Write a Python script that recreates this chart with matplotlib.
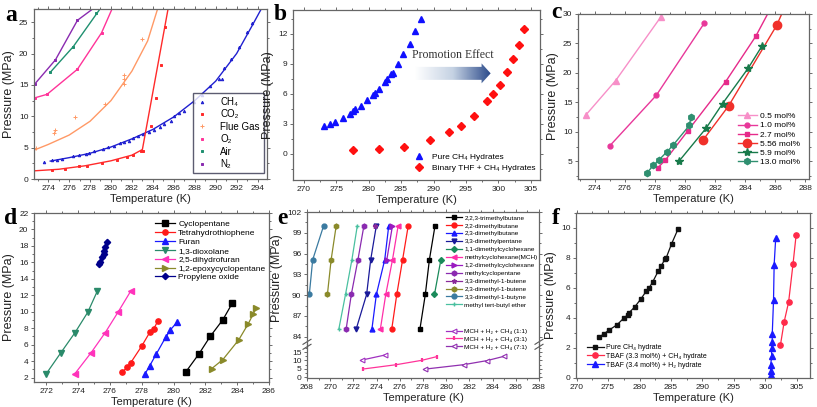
import numpy as np
import matplotlib
matplotlib.use('Agg')
import matplotlib.pyplot as plt
from matplotlib.ticker import MultipleLocator
from matplotlib.colors import LinearSegmentedColormap
from matplotlib.patches import Polygon
from matplotlib.lines import Line2D

plt.rcParams['font.family'] = ['Liberation Sans', 'DejaVu Sans']

# ---------------- panel a : gas hydrate equilibrium data ----------------
a_ch4_T = [273.6, 274.4, 274.8, 275.3, 276.4, 276.9, 277.6, 277.9, 278.4, 279.2, 279.7, 280.3,
           280.9, 281.2, 281.7, 282.1, 282.6, 283.1, 283.6, 284.1, 284.7, 285.1, 285.7, 286.0,
           286.5, 287.0, 287.9, 288.7, 289.5, 290.3, 290.6, 290.8, 291.5, 292.25, 293.0, 293.5]
a_ch4_P = [2.77, 3.0, 3.1, 3.25, 3.6, 3.8, 4.0, 4.2, 4.4, 4.8, 5.1, 5.3,
           5.7, 5.9, 6.1, 6.5, 6.8, 7.1, 7.5, 7.8, 8.3, 8.7, 9.2, 10.0,
           10.5, 10.9, 12.3, 13.4, 14.9, 15.9, 15.9, 17.7, 19.2, 21.1, 23.4, 24.9]
a_ch4_fit_T = [274.2, 276, 278, 280, 282, 284, 286, 288, 290, 292, 293.5, 294.35]
a_ch4_fit_P = [2.85, 3.4, 4.1, 5.1, 6.4, 7.9, 9.9, 12.5, 15.6, 20.0, 24.5, 27.1]
a_co2_T = [274.4, 275.6, 276.9, 277.7, 279.1, 280.6, 281.5, 282.1, 282.9, 283.1, 283.8, 284.3, 284.8, 285.2]
a_co2_P = [1.45, 1.65, 2.0, 2.1, 2.6, 3.1, 3.5, 3.8, 4.4, 4.45, 8.5, 12.9, 18.1, 24.3]
a_co2_fit_T = [272.65, 275, 277.5, 280, 282, 283.0, 285.45]
a_co2_fit_P = [1.3, 1.55, 2.1, 2.9, 3.8, 4.7, 27.1]
a_flue_T = [272.8, 274.6, 274.7, 276.6, 279.4, 281.2, 281.2, 281.25, 283.0]
a_flue_P = [4.9, 7.4, 7.8, 9.9, 12.0, 15.1, 16.0, 16.6, 22.3]
a_flue_fit_T = [272.65, 274, 276, 278, 280, 282, 283.5, 284.45]
a_flue_fit_P = [4.6, 5.5, 7.0, 9.2, 12.5, 17.2, 22.0, 27.1]
a_o2_T = [272.75, 273.9, 276.8, 279.1]
a_o2_P = [12.9, 13.5, 17.5, 23.3]
a_o2_fit_T = [272.65, 273.9, 276.8, 279.1, 280.1]
a_o2_fit_P = [12.9, 13.5, 17.5, 23.3, 27.1]
a_air_T = [274.2, 276.4, 278.6]
a_air_P = [17.0, 21.1, 26.5]
a_air_fit_T = [274.2, 276.4, 278.95]
a_air_fit_P = [17.0, 21.1, 27.1]
a_n2_T = [272.7, 274.7, 276.8]
a_n2_P = [15.1, 19.0, 25.3]
a_n2_fit_T = [272.65, 274.7, 276.8, 278.25]
a_n2_fit_P = [15.0, 19.0, 25.3, 27.1]

# ---------------- panel b ----------------
b_ch4_T = [273.2, 274.0, 274.8, 276.0, 277.1, 277.6, 277.9, 278.8, 279.8, 280.7, 281.0,
           281.6, 282.5, 282.9, 283.5, 283.7, 284.6, 285.3, 286.4, 287.2, 288.0]
b_ch4_P = [2.77, 3.0, 3.2, 3.6, 4.0, 4.3, 4.45, 4.8, 5.4, 5.85, 6.05,
           6.45, 7.2, 7.5, 8.0, 8.1, 8.96, 9.96, 11.0, 12.3, 13.5]
b_thf_T = [277.6, 281.6, 285.4, 289.5, 292.4, 294.3, 296.2, 298.3, 299.1, 300.2, 301.3, 302.2, 303.1, 304.0]
b_thf_P = [0.33, 0.47, 0.7, 1.37, 2.14, 2.8, 3.74, 5.3, 6.0, 6.9, 8.15, 9.46, 10.9, 12.5]

# ---------------- panel c ----------------
c_labels = ['0.5 mol%', '1.0 mol%', '2.7 mol%', '5.56 mol%', '5.9 mol%', '13.0 mol%']
c_T = [[273.4, 275.4, 278.4],
       [275.0, 278.1, 281.3],
       [278.2, 278.7, 280.2, 282.7, 284.7, 285.7],
       [281.2, 282.9, 286.1, 286.6],
       [279.6, 281.4, 282.5, 284.2, 285.1],
       [277.5, 277.9, 278.3, 278.8, 279.2, 280.3, 280.4]]
c_P = [[12.8, 18.7, 29.5],
       [7.6, 16.2, 28.5],
       [3.9, 5.2, 10.2, 18.5, 26.2, 31.0],
       [8.6, 14.4, 28.1, 31.0],
       [5.0, 10.6, 14.8, 20.8, 24.5],
       [3.1, 4.3, 5.3, 6.6, 7.7, 11.1, 12.5]]

# ---------------- panel d ----------------
d_labels = ['Cyclopentane', 'Tetrahydrothiophene', 'Furan', '1,3-dioxolane',
            '2,5-dihydrofuran', '1,2-epoxycyclopentane', 'Propylene oxide']
d_T = [[280.75, 281.6, 282.3, 283.1, 283.7],
       [276.76, 277.1, 277.3, 278.0, 278.5, 278.76, 279.0],
       [278.2, 278.5, 278.9, 279.5, 279.8, 280.2],
       [272.0, 272.9, 273.8, 274.6, 275.2],
       [273.8, 274.8, 275.7, 276.5, 277.3],
       [282.4, 283.1, 284.1, 284.7, 285.0, 285.2],
       [275.3, 275.4, 275.5, 275.6, 275.65, 275.7, 275.8]]
d_P = [[2.65, 4.9, 7.0, 9.04, 11.07],
       [2.65, 3.3, 3.8, 5.85, 7.5, 7.95, 8.85],
       [2.45, 3.45, 4.83, 6.9, 7.8, 8.7],
       [2.5, 5.0, 7.47, 9.94, 12.5],
       [2.5, 5.0, 7.47, 9.94, 12.5],
       [3.1, 4.2, 6.6, 8.56, 9.7, 10.45],
       [15.8, 16.1, 16.6, 17.0, 17.4, 17.9, 18.5]]

# ---------------- panel e ----------------
e_labels = ['2,2,3-trimethylbutane', '2,2-dimethylbutane', '2,3-dimethylbutane', '3,3-dimethylpentane',
            '1,1-dimethylcyclohexane', 'methylcyclohexane(MCH)', '1,2-dimethylcyclohexane',
            'methylcyclopentane', '3,3-dimethyl-1-butene', '2,3-dimethyl-1-butene',
            '3,3-dimethyl-1-butyne', 'methyl tert-butyl ether']
e_T = [[277.74, 278.2, 278.55, 279.04],
       [275.31, 275.74, 276.24, 276.73],
       [273.6, 273.98, 274.7, 275.05],
       [272.25, 273.14, 273.49, 273.98],
       [278.99, 279.54],
       [274.33, 274.79, 275.37, 275.86],
       [274.88, 275.37],
       [271.38, 271.82, 272.39, 272.91],
       [273.84],
       [269.76, 270.08, 270.52],
       [268.2, 268.49, 269.44],
       [270.75, 271.32, 271.87, 272.34]]
e_P = [[85.15, 90.1, 95.1, 100.05],
       [85.15, 90.1, 95.1, 100.05],
       [85.15, 90.1, 95.1, 100.05],
       [85.15, 90.1, 95.1, 100.05],
       [90.1, 95.1],
       [85.15, 90.1, 95.1, 100.05],
       [95.1, 100.05],
       [85.15, 90.1, 95.1, 100.05],
       [100.05],
       [90.1, 95.1, 100.05],
       [90.1, 95.1, 100.05],
       [85.15, 90.1, 95.1, 100.05]]
e_mix_labels = ['MCH + H₂ + CH₄ (1:1)', 'MCH + H₂ + CH₄ (3:1)', 'MCH + H₂ + CH₄ (7:1)']
e_mix_T = [[272.7, 274.7],
           [272.8, 275.7, 277.9, 279.2],
           [278.2, 281.5, 283.5, 285.0]]
e_mix_P = [[10.2, 13.2],
           [4.9, 7.5, 10.1, 12.3],
           [4.9, 7.5, 9.9, 12.5]]

# ---------------- panel f ----------------
f_ch4_T = [273.55, 274.4, 275.1, 276.4, 277.5, 278.1, 278.3, 279.2, 280.2, 281.1, 281.5,
           282.1, 283.0, 283.4, 284.05, 284.2, 285.1, 286.1]
f_ch4_P = [2.72, 2.96, 3.18, 3.54, 3.99, 4.2, 4.34, 4.72, 5.26, 5.81, 5.99,
           6.41, 7.15, 7.44, 7.93, 7.97, 8.95, 9.91]
f_tbaf_ch4_T = [302.4, 303.0, 303.7, 304.4, 304.9]
f_tbaf_ch4_P = [2.2, 3.76, 5.06, 7.6, 9.55]
f_tbaf_h2_T = [300.86, 300.86, 300.86, 301.0, 301.0, 301.1, 301.1, 301.3, 301.4, 301.65]
f_tbaf_h2_P = [0.2, 0.49, 0.89, 1.45, 2.0, 2.38, 2.94, 5.17, 7.55, 9.33]

W, H = 817, 407
fig = plt.figure(figsize=(W / 100, H / 100), dpi=100)


def make_ax(l, t, r, b):
    return fig.add_axes([l / W, 1 - b / H, (r - l) / W, (b - t) / H])


def style(ax, xstep, ystep, xlab=True):
    ax.xaxis.set_major_locator(MultipleLocator(xstep))
    ax.xaxis.set_minor_locator(MultipleLocator(xstep / 2))
    ax.yaxis.set_major_locator(MultipleLocator(ystep))
    ax.yaxis.set_minor_locator(MultipleLocator(ystep / 2))
    ax.tick_params(which='both', direction='out', top=True, right=True, labelsize=6,
                   width=0.6, color='#555555', labelcolor='#222222', pad=1.5)
    ax.tick_params(which='major', length=2.5)
    ax.tick_params(which='minor', length=1.5)
    for s in ax.spines.values():
        s.set_color('#666666')
        s.set_linewidth(0.9)
    if xlab:
        ax.set_xlabel('Temperature (K)', fontsize=8, labelpad=2, color='#222222')


def panel_letter(x, y, s):
    fig.text(x / W, 1 - y / H, s, fontsize=17, fontweight='bold',
             family=['Liberation Serif', 'DejaVu Serif'], va='baseline')


# ---------------- a ----------------
ax = make_ax(34, 9, 267, 179)
for T, P, fT, fP, c, m, lab in [
        (a_ch4_T, a_ch4_P, a_ch4_fit_T, a_ch4_fit_P, '#2020d0', '^', 'CH₄'),
        (a_co2_T, a_co2_P, a_co2_fit_T, a_co2_fit_P, '#ff2a2a', 's', 'CO₂'),
        (a_flue_T, a_flue_P, a_flue_fit_T, a_flue_fit_P, '#ff9966', '+', 'Flue Gas'),
        (a_o2_T, a_o2_P, a_o2_fit_T, a_o2_fit_P, '#ff3399', 's', 'O₂'),
        (a_air_T, a_air_P, a_air_fit_T, a_air_fit_P, '#1f9070', 's', 'Air'),
        (a_n2_T, a_n2_P, a_n2_fit_T, a_n2_fit_P, '#8a2bb0', 's', 'N₂')]:
    ax.plot(fT, fP, color=c, lw=1.0)
    ax.plot(T, P, ls='none', marker=m, ms=1.8 if m != '+' else 2.5, color=c, mew=0.7, label=lab)
ax.set_xlim(272.65, 294.9)
ax.set_ylim(0, 27.1)
style(ax, 2, 5)
ax.set_ylabel('Pressure (MPa)', fontsize=9, labelpad=3, color='#222222')
leg = ax.legend(loc='lower right', bbox_to_anchor=(0.985, 0.035), fontsize=7, handlelength=1,
                handletextpad=1.4, labelspacing=0.25, fancybox=False, borderpad=0.4,
                borderaxespad=0, markerscale=1.0)
leg.get_frame().set_edgecolor('#33334d')
leg.get_frame().set_linewidth(1.0)
panel_letter(5, 21, 'a')

# ---------------- b ----------------
ax = make_ax(293, 10, 540, 180)
ax.plot(b_ch4_T, b_ch4_P, ls='none', marker='^', ms=5, color='#1010ff', label='Pure CH₄ Hydrates')
ax.plot(b_thf_T, b_thf_P, ls='none', marker='D', ms=4, color='#ff1010', label='Binary THF + CH₄ Hydrates')
cmap = LinearSegmentedColormap.from_list('arr', ['#ffffff', '#c5d2e3', '#2b4a8a'])
im = ax.imshow(np.linspace(0, 1, 256)[None, :], extent=(287.1, 298.8, 7.0, 9.1),
               aspect='auto', cmap=cmap, zorder=1)
arrow = Polygon([(287.1, 7.4), (297.4, 7.4), (297.4, 7.05), (298.8, 8.05), (297.4, 9.05),
                 (297.4, 8.7), (287.1, 8.7)], closed=True, transform=ax.transData,
                facecolor='none', edgecolor='none')
ax.add_patch(arrow)
im.set_clip_path(arrow)
ax.text(293.0, 9.9, 'Promotion Effect', fontsize=8.5, ha='center', va='center', color='#333333',
        family=['Liberation Serif', 'DejaVu Serif'])
ax.set_xlim(268.35, 306.4)
ax.set_ylim(-2.64, 14.4)
style(ax, 5, 3)
ax.yaxis.set_minor_locator(MultipleLocator(1.5))
ax.set_ylabel('Pressure (MPa)', fontsize=9, labelpad=3, color='#222222')
ax.legend(loc='lower right', bbox_to_anchor=(0.995, 0.03), fontsize=6, frameon=False,
          handletextpad=0.6, labelspacing=0.35, borderaxespad=0)
panel_letter(274, 20, 'b')

# ---------------- c ----------------
ax = make_ax(578, 14, 809, 179)
c_colors = ['#f78fc8', '#e8389a', '#e62a8a', '#f0302a', '#187a4a', '#2f8f70']
c_markers = ['^', 'o', 's', 'o', '*', 'h']
c_sizes = [4, 3.5, 3.5, 6, 6, 4.5]
for T, P, lab, col, m, s in zip(c_T, c_P, c_labels, c_colors, c_markers, c_sizes):
    ax.plot(T, P, color=col, marker=m, ms=s, lw=1.0, label=lab)
ax.set_xlim(272.9, 288.24)
ax.set_ylim(2.0, 30)
style(ax, 2, 5)
ax.set_ylabel('Pressure (MPa)', fontsize=9, labelpad=3, color='#222222')
ax.legend(loc='lower right', bbox_to_anchor=(0.975, 0.06), fontsize=6, frameon=False,
          handlelength=2.2, handletextpad=0.4, labelspacing=0.15, borderaxespad=0)
panel_letter(551, 18, 'c')

# ---------------- d ----------------
ax = make_ax(34, 213, 269, 382)
d_colors = ['#000000', '#ff1a1a', '#1a1aff', '#2a8a6a', '#ff33bb', '#8a8a2a', '#00008b']
d_markers = ['s', 'o', '^', 'v', '<', '>', 'D']
for T, P, lab, col, m in zip(d_T, d_P, d_labels, d_colors, d_markers):
    ax.plot(T, P, color=col, marker=m, ms=3.8 if m != 'D' else 3.2, lw=0.9, label=lab)
ax.set_xlim(271.22, 286.0)
ax.set_ylim(1.47, 22)
style(ax, 2, 2)
ax.yaxis.set_minor_locator(MultipleLocator(1))
ax.set_ylabel('Pressure (MPa)', fontsize=9, labelpad=3, color='#222222')
ax.legend(loc='upper left', bbox_to_anchor=(0.50, 0.975), fontsize=6, frameon=False,
          handlelength=2.4, handletextpad=0.4, labelspacing=0.12, borderaxespad=0)
panel_letter(4, 224, 'd')

# ---------------- e (broken y axis) ----------------
ax_u = make_ax(307, 212, 539, 344.3)
ax_l = make_ax(307, 344.3, 539, 378)
ax_u.set_zorder(3)
ax_u.patch.set_visible(False)
e_colors = ['#000000', '#ff1a1a', '#1a1aff', '#1a1a99', '#1a8a5a', '#ff2fa8', '#9a1ac0',
            '#8a2ab0', '#8a2a9a', '#8a8a2a', '#3a7aa0', '#4ac0a0']
e_markers = ['s', 'o', '^', 'v', 'D', '<', '>', 'h', '*', 'h', 'o', '+']
for T, P, lab, col, m in zip(e_T, e_P, e_labels, e_colors, e_markers):
    ax_u.plot(T, P, color=col, marker=m, ms=3.5 if m != 'D' else 3, lw=0.9, label=lab)
mix_colors = ['#a030c0', '#ff3399', '#9030b0']
mix_markers = ['<', '|', '<']
mix_lines = []
for T, P, lab, col, m in zip(e_mix_T, e_mix_P, e_mix_labels, mix_colors, mix_markers):
    ln, = ax_l.plot(T, P, color=col, marker=m, ms=3.5, lw=0.9, mfc='white' if m == '<' else col,
                    mew=0.8 if m == '<' else 1.6, label=lab)
    mix_lines.append(ln)
for a_ in (ax_u, ax_l):
    a_.set_xlim(268, 288)
ax_u.set_ylim(82.9, 102)
ax_l.set_ylim(-0.4, 19.6)
style(ax_u, 2, 3, xlab=False)
style(ax_l, 2, 5)
ax_u.tick_params(which='both', bottom=False, labelbottom=False)
ax_l.tick_params(which='both', top=False)
ax_u.spines['bottom'].set_visible(False)
ax_l.spines['top'].set_visible(False)
ax_u.set_ylabel('Pressure (MPa)', fontsize=9, labelpad=3, color='#222222')
leg1 = ax_u.legend(loc='upper left', bbox_to_anchor=(0.59, 0.995), fontsize=4.6, frameon=False,
                   handlelength=2.4, handletextpad=0.4, labelspacing=0.38, borderaxespad=0)
ax_u.add_artist(leg1)
ax_u.legend(handles=mix_lines, loc='upper left', bbox_to_anchor=(0.59, 0.14), fontsize=4.6,
            frameon=False, handlelength=2.4, handletextpad=0.4, labelspacing=0.38, borderaxespad=0)
# break marks on the y axis
for xpx in (307, 539):
    for dy in (-2.5, 2.5):
        fig.add_artist(Line2D([(xpx - 4) / W, (xpx + 4) / W],
                              [1 - (344.3 + dy + 2.5) / H, 1 - (344.3 + dy - 2.5) / H],
                              color='#555555', lw=0.8))
panel_letter(277, 224, 'e')

# ---------------- f ----------------
ax = make_ax(576, 213, 810, 378)
ax.plot(f_ch4_T, f_ch4_P, color='#111111', marker='s', ms=3.5, lw=0.9, label='Pure CH₄ hydrate')
ax.plot(f_tbaf_ch4_T, f_tbaf_ch4_P, color='#ff2a4a', marker='o', ms=3.8, lw=0.9,
        label='TBAF (3.3 mol%) + CH₄ hydrate')
ax.plot(f_tbaf_h2_T, f_tbaf_h2_P, color='#1a1aff', marker='^', ms=3.8, lw=0.9,
        label='TBAF (3.4 mol%) + H₂ hydrate')
ax.set_xlim(269.9, 307.1)
ax.set_ylim(0, 11.0)
style(ax, 5, 2)
ax.yaxis.set_minor_locator(MultipleLocator(1))
ax.set_ylabel('Pressure (MPa)', fontsize=9, labelpad=3, color='#222222')
ax.legend(loc='lower left', bbox_to_anchor=(0.035, 0.04), fontsize=5, frameon=False,
          handlelength=2.4, handletextpad=0.4, labelspacing=0.25, borderaxespad=0)
panel_letter(552, 224, 'f')

fig.savefig('out.png', dpi=100)
